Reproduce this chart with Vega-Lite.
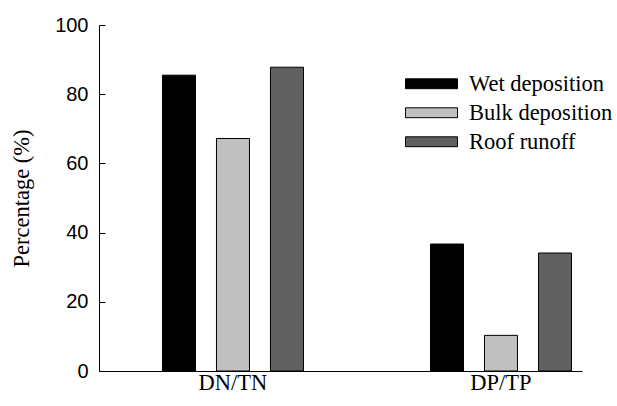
{
  "$schema": "https://vega.github.io/schema/vega-lite/v6.json",
  "width": 483,
  "height": 346,
  "autosize": {"type": "none"},
  "padding": {"left": 99, "top": 25, "right": 35, "bottom": 35},
  "background": "white",
  "data": {
    "values": [
      {"ratio": "DN/TN", "type": "Wet deposition", "value": 85.5},
      {"ratio": "DN/TN", "type": "Bulk deposition", "value": 67.2},
      {"ratio": "DN/TN", "type": "Roof runoff", "value": 87.8},
      {"ratio": "DP/TP", "type": "Wet deposition", "value": 36.7},
      {"ratio": "DP/TP", "type": "Bulk deposition", "value": 10.3},
      {"ratio": "DP/TP", "type": "Roof runoff", "value": 34.1}
    ]
  },
  "mark": {"type": "bar", "stroke": "black", "strokeWidth": 1},
  "encoding": {
    "x": {
      "field": "ratio",
      "type": "nominal",
      "sort": null,
      "scale": {"paddingInner": 0.474, "paddingOuter": 0.138, "align": 0.858},
      "axis": {
        "title": null,
        "labelAngle": 0,
        "ticks": false,
        "labelFont": "Liberation Serif",
        "labelFontSize": 22.5,
        "labelColor": "black",
        "labelPadding": 0,
        "domainColor": "black",
        "domainWidth": 1
      }
    },
    "xOffset": {
      "field": "type",
      "type": "nominal",
      "sort": ["Wet deposition", "Bulk deposition", "Roof runoff"],
      "scale": {"paddingInner": 0.389, "paddingOuter": 0}
    },
    "y": {
      "field": "value",
      "type": "quantitative",
      "scale": {"domain": [0, 100], "nice": false},
      "axis": {
        "title": "Percentage (%)",
        "titleFont": "Liberation Serif",
        "titleFontSize": 22.5,
        "titleFontWeight": "normal",
        "titleColor": "black",
        "titlePadding": 21,
        "values": [0, 20, 40, 60, 80, 100],
        "grid": false,
        "tickSize": -6,
        "tickColor": "black",
        "labelFont": "Liberation Sans",
        "labelFontSize": 20,
        "labelColor": "black",
        "labelPadding": 17,
        "domainColor": "black",
        "domainWidth": 1
      }
    },
    "fill": {
      "field": "type",
      "type": "nominal",
      "sort": ["Wet deposition", "Bulk deposition", "Roof runoff"],
      "scale": {
        "domain": ["Wet deposition", "Bulk deposition", "Roof runoff"],
        "range": ["#000000", "#c0c0c0", "#606060"]
      },
      "legend": {
        "title": null,
        "orient": "none",
        "legendX": 306,
        "legendY": 44.5,
        "padding": 0,
        "symbolType": "M-1,-0.19H1V0.19H-1Z",
        "symbolSize": 2704,
        "symbolStrokeColor": "black",
        "symbolStrokeWidth": 1,
        "symbolOpacity": 1,
        "labelFont": "Liberation Serif",
        "labelFontSize": 22.5,
        "labelColor": "black",
        "labelOffset": 11,
        "clipHeight": 28.5,
        "rowPadding": 0,
        "labelLimit": 300
      }
    }
  },
  "config": {"view": {"stroke": null}}
}
